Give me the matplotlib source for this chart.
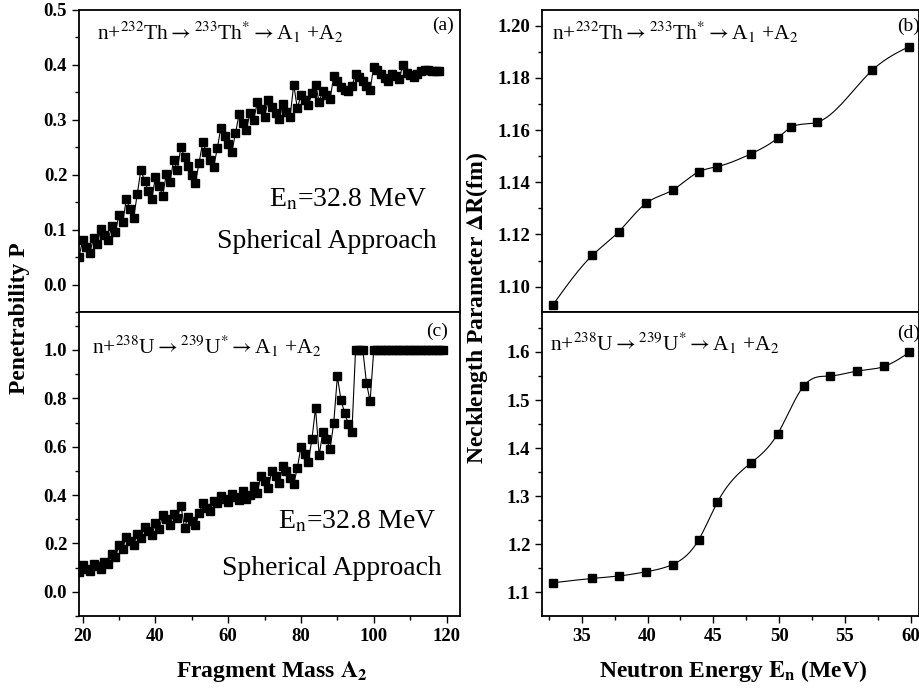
import numpy as np
import matplotlib
matplotlib.use("Agg")
import matplotlib.pyplot as plt
from matplotlib.ticker import MultipleLocator, FormatStrFormatter

plt.rcParams['font.family'] = ['Liberation Serif', 'DejaVu Serif']
plt.rcParams['mathtext.fontset'] = 'stix'

# ---------------- data ----------------
A2_th = list(range(19, 119))
P_th = [0.050, 0.081, 0.068, 0.058, 0.085, 0.074, 0.102, 0.091, 0.081, 0.106,
        0.096, 0.127, 0.113, 0.155, 0.138, 0.121, 0.164, 0.209, 0.189, 0.171,
        0.155, 0.196, 0.179, 0.162, 0.202, 0.186, 0.227, 0.209, 0.250, 0.232,
        0.215, 0.200, 0.185, 0.222, 0.259, 0.242, 0.227, 0.214, 0.248, 0.286,
        0.270, 0.256, 0.241, 0.276, 0.310, 0.295, 0.282, 0.313, 0.300, 0.332,
        0.319, 0.306, 0.336, 0.323, 0.312, 0.301, 0.329, 0.315, 0.305, 0.364,
        0.321, 0.345, 0.336, 0.327, 0.348, 0.364, 0.333, 0.353, 0.345, 0.338,
        0.379, 0.370, 0.359, 0.355, 0.352, 0.361, 0.384, 0.378, 0.370, 0.361,
        0.355, 0.397, 0.391, 0.384, 0.377, 0.371, 0.384, 0.380, 0.375, 0.400,
        0.386, 0.382, 0.378, 0.384, 0.388, 0.391, 0.390, 0.389, 0.389, 0.389]

A2_u = list(range(19, 120))
P_u = [0.080, 0.110, 0.096, 0.087, 0.114, 0.107, 0.096, 0.124, 0.114, 0.155,
       0.142, 0.192, 0.179, 0.228, 0.210, 0.192, 0.241, 0.224, 0.268, 0.252,
       0.234, 0.283, 0.261, 0.316, 0.300, 0.275, 0.323, 0.307, 0.355, 0.265,
       0.311, 0.293, 0.275, 0.324, 0.368, 0.348, 0.334, 0.375, 0.366, 0.396,
       0.382, 0.371, 0.403, 0.393, 0.379, 0.416, 0.382, 0.400, 0.437, 0.410,
       0.480, 0.460, 0.430, 0.500, 0.480, 0.450, 0.520, 0.500, 0.470, 0.445,
       0.513, 0.600, 0.568, 0.537, 0.630, 0.760, 0.564, 0.661, 0.630, 0.592,
       0.698, 0.891, 0.792, 0.740, 0.694, 0.661, 1.0, 1.0, 1.0, 0.863,
       0.788, 1.0, 1.0, 1.0, 1.0, 1.0, 1.0, 1.0, 1.0, 1.0,
       1.0, 1.0, 1.0, 1.0, 1.0, 1.0, 1.0, 1.0, 1.0, 1.0, 1.0]

E_th = [32.8, 35.8, 37.8, 39.9, 41.9, 43.9, 45.3, 47.9, 49.9, 50.9, 52.9, 57.1, 59.9]
dR_th = [1.093, 1.112, 1.121, 1.132, 1.137, 1.144, 1.146, 1.151, 1.157, 1.161,
         1.163, 1.183, 1.192]

E_u = [32.8, 35.8, 37.8, 39.9, 41.9, 43.9, 45.3, 47.9, 49.9, 51.9, 53.9, 55.9, 58.0, 59.9]
dR_u = [1.120, 1.129, 1.134, 1.143, 1.158, 1.210, 1.287, 1.370, 1.430, 1.530,
        1.550, 1.560, 1.570, 1.599]

th_label = r'n+$^{232}$Th$\rightarrow$$^{233}$Th$^{*}$$\rightarrow$A$_1$ +A$_2$'
u_label = r'n+$^{238}$U$\rightarrow$$^{239}$U$^{*}$$\rightarrow$A$_1$ +A$_2$'


def natural_spline(x, y, n=500):
    x = np.asarray(x, float)
    y = np.asarray(y, float)
    N = len(x)
    h = np.diff(x)
    A = np.zeros((N, N))
    b = np.zeros(N)
    A[0, 0] = 1
    A[-1, -1] = 1
    for i in range(1, N - 1):
        A[i, i - 1] = h[i - 1]
        A[i, i] = 2 * (h[i - 1] + h[i])
        A[i, i + 1] = h[i]
        b[i] = 6 * ((y[i + 1] - y[i]) / h[i] - (y[i] - y[i - 1]) / h[i - 1])
    M = np.linalg.solve(A, b)
    xs = np.linspace(x[0], x[-1], n)
    idx = np.clip(np.searchsorted(x, xs) - 1, 0, N - 2)
    x0, x1 = x[idx], x[idx + 1]
    hh = x1 - x0
    t0 = x1 - xs
    t1 = xs - x0
    ys = (M[idx] * t0 ** 3 + M[idx + 1] * t1 ** 3) / (6 * hh) \
        + (y[idx] / hh - M[idx] * hh / 6) * t0 + (y[idx + 1] / hh - M[idx + 1] * hh / 6) * t1
    return xs, ys


W, H = 919, 689
fig = plt.figure(figsize=(W / 100, H / 100), dpi=100)


def ax_at(x0, y0, x1, y1):
    return fig.add_axes([x0 / W, 1 - y1 / H, (x1 - x0) / W, (y1 - y0) / H])


axa = ax_at(79, 10, 460, 312)
axc = ax_at(79, 312, 460, 616)
axb = ax_at(542.3, 10, 918.5, 312)
axd = ax_at(542.3, 312, 918.5, 616)

ms = 5.8
lw = 0.8
axa.plot(A2_th, P_th, '-', color='black', lw=lw, marker='s', ms=ms)
axc.plot(A2_u, P_u, '-', color='black', lw=lw, marker='s', ms=ms)

xs, ys = natural_spline(E_th, dR_th)
axb.plot(xs, ys, '-', color='black', lw=lw)
axb.plot(E_th, dR_th, 's', color='black', ms=ms)
xs, ys = natural_spline(E_u, dR_u)
axd.plot(xs, ys, '-', color='black', lw=lw)
axd.plot(E_u, dR_u, 's', color='black', ms=ms)

for ax in (axa, axc):
    ax.set_xlim(19, 123.7)
    ax.xaxis.set_major_locator(MultipleLocator(20))
    ax.xaxis.set_minor_locator(MultipleLocator(10))
axa.set_ylim(-0.05, 0.5)
axa.yaxis.set_major_locator(MultipleLocator(0.1))
axa.yaxis.set_minor_locator(MultipleLocator(0.05))
axa.yaxis.set_major_formatter(FormatStrFormatter('%.1f'))
axc.set_ylim(-0.1, 1.157)
axc.yaxis.set_major_locator(MultipleLocator(0.2))
axc.yaxis.set_minor_locator(MultipleLocator(0.1))
axc.yaxis.set_major_formatter(FormatStrFormatter('%.1f'))

for ax in (axb, axd):
    ax.set_xlim(32.0, 60.6)
    ax.xaxis.set_major_locator(MultipleLocator(5))
    ax.xaxis.set_minor_locator(MultipleLocator(2.5))
axb.set_ylim(1.0903, 1.206)
axb.yaxis.set_major_locator(MultipleLocator(0.02))
axb.yaxis.set_minor_locator(MultipleLocator(0.01))
axb.yaxis.set_major_formatter(FormatStrFormatter('%.2f'))
axd.set_ylim(1.051, 1.683)
axd.yaxis.set_major_locator(MultipleLocator(0.1))
axd.yaxis.set_minor_locator(MultipleLocator(0.05))
axd.yaxis.set_major_formatter(FormatStrFormatter('%.1f'))

for ax in (axa, axb, axc, axd):
    ax.tick_params(which='both', direction='out', top=False, right=False,
                   labelsize=13.5, width=1.0)
    ax.tick_params(which='major', length=5)
    ax.tick_params(which='minor', length=3)
    for s in ax.spines.values():
        s.set_linewidth(1.3)
    for lab in ax.get_xticklabels() + ax.get_yticklabels():
        lab.set_fontweight('bold')
for ax in (axa, axb):
    ax.tick_params(labelbottom=False)

fs = 15.5
big = 20
axa.text(0.047, 0.925, th_label, transform=axa.transAxes, fontsize=fs, va='center', ha='left')
axa.text(0.983, 0.95, '(a)', transform=axa.transAxes, fontsize=14, va='center', ha='right')
axa.text(0.705, 0.371, r'E$_\mathrm{n}$=32.8 MeV', transform=axa.transAxes, fontsize=big, va='center', ha='center')
axa.text(0.65, 0.232, 'Spherical Approach', transform=axa.transAxes, fontsize=big, va='center', ha='center')

axc.text(0.033, 0.888, u_label, transform=axc.transAxes, fontsize=fs, va='center', ha='left')
axc.text(0.969, 0.935, '(c)', transform=axc.transAxes, fontsize=14, va='center', ha='right')
axc.text(0.731, 0.31, r'E$_\mathrm{n}$=32.8 MeV', transform=axc.transAxes, fontsize=big, va='center', ha='center')
axc.text(0.663, 0.157, 'Spherical Approach', transform=axc.transAxes, fontsize=big, va='center', ha='center')

axb.text(0.025, 0.925, th_label, transform=axb.transAxes, fontsize=fs, va='center', ha='left')
axb.text(1.005, 0.945, '(b)', transform=axb.transAxes, fontsize=14, va='center', ha='right')
axd.text(0.02, 0.897, u_label, transform=axd.transAxes, fontsize=fs, va='center', ha='left')
axd.text(1.005, 0.93, '(d)', transform=axd.transAxes, fontsize=14, va='center', ha='right')

lab_fs = 17
fig.text(272 / W, 1 - 671 / H, r'Fragment Mass $\mathbf{A_2}$', fontsize=lab_fs,
         fontweight='bold', ha='center', va='center')
fig.text(733 / W, 1 - 671 / H, r'Neutron Energy $\mathbf{E_n}$ (MeV)', fontsize=lab_fs,
         fontweight='bold', ha='center', va='center')
fig.text(20 / W, 1 - 318 / H, 'Penetrability P', fontsize=lab_fs, fontweight='bold',
         rotation=90, ha='center', va='center')
fig.text(477 / W, 1 - 308 / H, r'Necklength Parameter $\mathbf{\Delta R}$(fm)', fontsize=lab_fs,
         fontweight='bold', rotation=90, ha='center', va='center')

fig.savefig('out.png', dpi=100)
